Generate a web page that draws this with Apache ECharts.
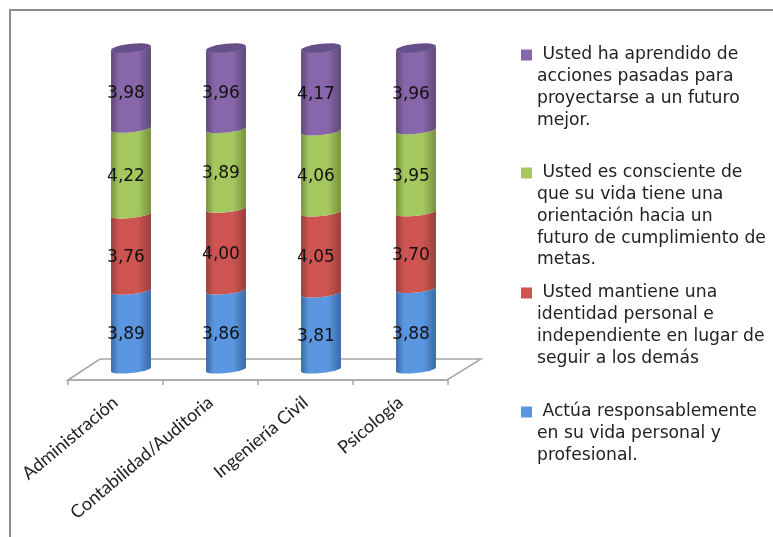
<!DOCTYPE html>
<html><head><meta charset="utf-8">
<style>html,body{margin:0;padding:0;background:#fff}#c{width:773px;height:537px}</style>
<script src="https://cdn.jsdelivr.net/npm/echarts@6/dist/echarts.min.js"></script>
</head><body><div id="c"></div>
<script>
const categories = ['Administración','Contabilidad/Auditoria','Ingeniería Civil','Psicología'];
const actua = [3.89,3.86,3.81,3.88];
const identidad = [3.76,4.00,4.05,3.70];
const consciente = [4.22,3.89,4.06,3.95];
const aprendido = [3.98,3.96,4.17,3.96];
const names = [
 'Actúa responsablemente\nen su vida personal y\nprofesional.',
 'Usted mantiene una\nidentidad personal e\nindependiente en lugar de\nseguir a los demás',
 'Usted es consciente de\nque su vida tiene una\norientación hacia un\nfuturo de cumplimiento de\nmetas.',
 'Usted ha aprendido de\nacciones pasadas para\nproyectarse a un futuro\nmejor.'
];
const values = [actua, identidad, consciente, aprendido];
const baseColors = ['#5a97e0','#cd5451','#a5c75f','#8766a9'];
const darkColors = ['#3a6aa3','#97403d','#76913f','#5f4878'];
const legendTops = [412,293,173,55];
const LH = 21.7;

const totals = categories.map((_,i)=>values.reduce((s,v)=>s+v[i],0));
function rows(k){
  return categories.map((_,i)=>{
    let low=0; for(let j=0;j<k;j++) low+=values[j][i];
    return [i, low/totals[i]*100, (low+values[k][i])/totals[i]*100, values[k][i]];
  });
}
function arc(cx,cy,rx,ry,from,to){
  const pts=[],n=24;
  for(let s=0;s<=n;s++){
    const t=from+(to-from)*s/n;
    pts.push([cx+rx*Math.cos(t), cy+ry*Math.sin(t)-0.1*rx*Math.cos(t)]);
  }
  return pts;
}
function render(k){
  return function(params,api){
    const i=api.value(0);
    const p0=api.coord([i,api.value(1)]), p1=api.coord([i,api.value(2)]);
    const rx=api.size([1,0])[0]*0.21, ry=3.6, cx=p0[0];
    const fill={type:'linear',x:0,y:0,x2:1,y2:0,colorStops:[
      {offset:0,color:darkColors[k]},{offset:0.2,color:baseColors[k]},
      {offset:0.68,color:baseColors[k]},{offset:1,color:darkColors[k]}]};
    const children=[{type:'polygon',shape:{points:arc(cx,p0[1],rx,ry,Math.PI,0).concat(arc(cx,p1[1],rx,ry,0,Math.PI))},style:{fill}}];
    if(k===values.length-1){
      children.push({type:'polygon',shape:{points:arc(cx,p1[1],rx,ry+0.6,0,2*Math.PI)},style:{fill:'#67508a'}});
    }
    children.push({type:'text',style:{x:cx-5,y:(p0[1]+p1[1])/2+5,text:String(api.value(3).toFixed(2)).replace('.',','),
      fill:'#111',font:'17px "DejaVu Sans"',align:'center',verticalAlign:'middle'}});
    return {type:'group',children};
  };
}
const series=values.map((v,k)=>({
  type:'custom',name:names[k],xAxisIndex:1,yAxisIndex:1,
  data:rows(k),encode:{x:0,y:[1,2]},renderItem:render(k),
  itemStyle:{color:baseColors[k]},clip:false
}));
const legends=names.map((n,k)=>{
  const lines=n.split('\n').length;
  return {show:true,data:[n],left:521,top:legendTops[k]-LH*(lines-1)-LH/2,orient:'vertical',selectedMode:false,
    itemWidth:11,itemHeight:11,itemGap:0,padding:0,
    icon:'rect',
    // blank lines above keep the first text line level with the square
    formatter:s=>'\u00a0\n'.repeat(lines-1)+'\u00a0'+s,
    textStyle:{fontFamily:'"DejaVu Sans"',fontSize:17.2,color:'#222',lineHeight:LH}};
});
const chart=echarts.init(document.getElementById('c'),null,{renderer:'canvas'});
chart.setOption({
  animation:false,backgroundColor:'#fff',
  graphic:[
    {type:'polyline',shape:{points:[[10,537],[10,10],[773,10]]},style:{stroke:'#8c8c8c',lineWidth:2,fill:null},silent:true},
    {type:'polygon',shape:{points:[[68,380],[100,359],[481,359],[447,380]]},style:{fill:'#fff',stroke:'#a6a6a6',lineWidth:1.5},silent:true}
  ],
  legend:legends,
  grid:[
    {left:68,width:380,top:48,height:332},
    {left:83.5,width:380,top:48,height:321.5}
  ],
  xAxis:[
    {gridIndex:0,type:'category',data:categories,boundaryGap:true,
      axisLine:{show:true,lineStyle:{color:'#a6a6a6',width:1.5}},
      axisTick:{show:true,alignWithLabel:false,length:5,lineStyle:{color:'#a6a6a6',width:1.5}},
      axisLabel:{rotate:40,interval:0,margin:20,fontFamily:'Lato',fontSize:18,color:'#222'}},
    {gridIndex:1,type:'category',data:categories,show:false}
  ],
  yAxis:[
    {gridIndex:0,type:'value',min:0,max:100,show:false},
    {gridIndex:1,type:'value',min:0,max:100,show:false}
  ],
  series
});
</script></body></html>
